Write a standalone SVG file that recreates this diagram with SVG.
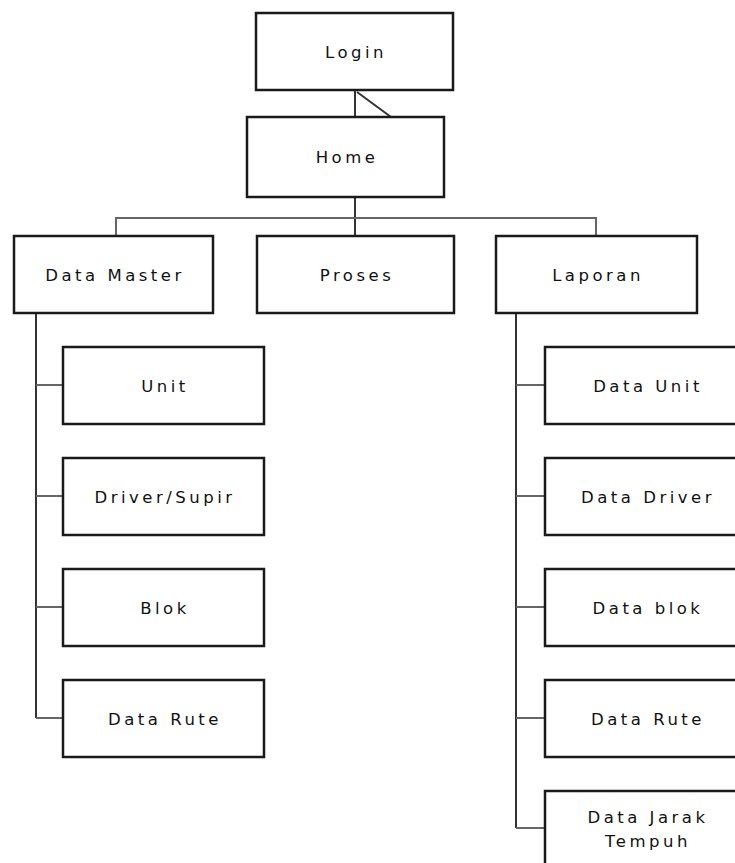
<svg xmlns="http://www.w3.org/2000/svg" width="735" height="863" viewBox="0 0 735 863">
<style>
.box{fill:#fff;stroke:#1a1a1a;stroke-width:2.5}
.lbl{font-family:"DejaVu Sans",sans-serif;font-size:16.5px;letter-spacing:3.5px;fill:#111;text-anchor:middle}
.con{fill:none;stroke:#333;stroke-width:2}
.br{fill:none;stroke:#666;stroke-width:2}
</style>
<rect width="735" height="863" fill="#fff"/>
<g id="connectors">
<path class="con" d="M355 90V117M357 92L391 117"/>
<path class="con" d="M355 197V236"/>
<path class="br" d="M116 236V218H596V236"/>
<path class="con" d="M36 313V718"/>
<path class="br" d="M36 385H63M36 496H63M36 607H63M36 718H63"/>
<path class="con" d="M516 313V828"/>
<path class="br" d="M516 385H545M516 496H545M516 607H545M516 718H545M516 828H545"/>
</g>
<g id="login"><rect class="box" x="256" y="13" width="197" height="77"/><text class="lbl" x="356" y="58">Login</text></g>
<g id="home"><rect class="box" x="247" y="117" width="197" height="80"/><text class="lbl" x="347" y="163">Home</text></g>
<g id="data-master"><rect class="box" x="14" y="236" width="199" height="77"/><text class="lbl" x="115" y="281">Data Master</text></g>
<g id="proses"><rect class="box" x="257" y="236" width="197" height="77"/><text class="lbl" x="357" y="281">Proses</text></g>
<g id="laporan"><rect class="box" x="496" y="236" width="201" height="77"/><text class="lbl" x="598" y="281">Laporan</text></g>
<g id="unit"><rect class="box" x="63" y="347" width="201" height="77"/><text class="lbl" x="165" y="392">Unit</text></g>
<g id="driver-supir"><rect class="box" x="63" y="458" width="201" height="77"/><text class="lbl" x="165" y="503">Driver/Supir</text></g>
<g id="blok"><rect class="box" x="63" y="569" width="201" height="77"/><text class="lbl" x="165" y="614">Blok</text></g>
<g id="data-rute-l"><rect class="box" x="63" y="680" width="201" height="77"/><text class="lbl" x="165" y="725">Data Rute</text></g>
<g id="data-unit"><rect class="box" x="545" y="347" width="202" height="77"/><text class="lbl" x="648" y="392">Data Unit</text></g>
<g id="data-driver"><rect class="box" x="545" y="458" width="202" height="77"/><text class="lbl" x="648" y="503">Data Driver</text></g>
<g id="data-blok"><rect class="box" x="545" y="569" width="202" height="77"/><text class="lbl" x="648" y="614">Data blok</text></g>
<g id="data-rute-r"><rect class="box" x="545" y="680" width="202" height="77"/><text class="lbl" x="648" y="725">Data Rute</text></g>
<g id="data-jarak-tempuh"><rect class="box" x="545" y="791" width="202" height="80"/><text class="lbl" x="648" y="823">Data Jarak</text><text class="lbl" x="648" y="847">Tempuh</text></g>
</svg>
